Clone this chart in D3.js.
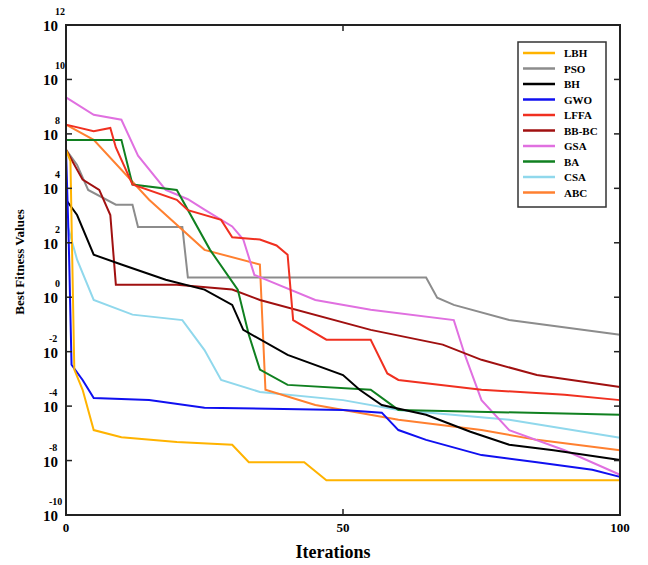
<!DOCTYPE html>
<html><head><meta charset="utf-8">
<script src="https://cdn.jsdelivr.net/npm/d3@7"></script>
<style>body{margin:0;background:#fff}text{font-family:"Liberation Serif","Times New Roman",serif;font-weight:bold}</style>
</head><body><svg id="c" width="648" height="565"></svg>
<script>
// y values are positions on the (evenly spaced) decade axis: 0 = 10^-10 label ... 9 = 10^12 label
const yTickExp = ["-10", "-8", "-4", "-2", "0", "2", "4", "8", "10", "12"];
const xTicks = [0, 50, 100];
const names = ["LBH","PSO","BH","GWO","LFFA","BB-BC","GSA","BA","CSA","ABC"];
const colors = ["#FFB300","#8C8C8C","#000000","#1010F0","#F03020","#A01010","#E070E0","#108020","#90D8EC","#FF8030"];
const LBH = [[0,6.71],[0.8,6.5],[1.5,2.67],[3,2.3],[5,1.56],[10,1.43],[20,1.34],[30,1.29],[33,0.97],[43,0.97],[47,0.64],[100,0.64]];
const PSO = [[0,6.71],[2,6.43],[4,5.97],[9,5.7],[12,5.7],[13,5.29],[21,5.29],[22,4.36],[65,4.36],[67,3.99],[70,3.86],[80,3.58],[100,3.31]];
const BH = [[0,5.79],[2,5.51],[5,4.78],[10,4.6],[18,4.32],[25,4.14],[30,3.86],[32,3.4],[40,2.94],[50,2.57],[53,2.3],[57,2.02],[65,1.84],[73,1.53],[80,1.29],[88,1.19],[100,1.01]];
const GWO = [[0,6.71],[0.5,5.0],[1,2.76],[3,2.48],[5,2.15],[15,2.11],[25,1.97],[50,1.93],[57,1.88],[60,1.56],[65,1.38],[75,1.1],[85,0.97],[95,0.83],[100,0.7]];
const LFFA = [[0,7.17],[5,7.05],[8,7.11],[9,6.75],[12,6.07],[20,5.79],[22,5.6],[28,5.42],[30,5.1],[35,5.06],[38,4.95],[40,4.78],[41,3.58],[47,3.22],[55,3.22],[58,2.6],[60,2.48],[75,2.3],[90,2.21],[100,2.11]];
const BBBC = [[0,6.71],[3,6.16],[6,5.97],[8,5.51],[9,4.23],[20,4.23],[30,4.14],[35,3.95],[55,3.4],[68,3.13],[75,2.85],[85,2.57],[100,2.35]];
const GSA = [[0,7.67],[5,7.35],[10,7.26],[13,6.6],[18,5.97],[22,5.8],[25,5.61],[30,5.3],[32,5.06],[34,4.41],[45,3.95],[55,3.77],[70,3.58],[72,2.94],[75,2.11],[80,1.56],[90,1.19],[100,0.74]];
const BA = [[0,6.89],[10,6.89],[12,6.07],[20,5.97],[26,4.87],[31,4.14],[33,3.31],[35,2.67],[40,2.39],[55,2.3],[60,1.93],[100,1.84]];
const CSA = [[0,5.42],[2,4.69],[5,3.95],[12,3.68],[21,3.58],[25,3.03],[28,2.48],[35,2.26],[50,2.11],[60,1.93],[80,1.75],[100,1.42]];
const ABC = [[0,7.17],[5,6.89],[15,5.79],[25,4.87],[35,4.6],[36,2.3],[45,2.02],[60,1.75],[75,1.56],[85,1.38],[100,1.19]];
const series = [LBH,PSO,BH,GWO,LFFA,BBBC,GSA,BA,CSA,ABC];
const drawOrder = [8,1,9,6,5,7,4,2,3,0];

const svg = d3.select("#c");
const L = 66, R = 620, T = 25, B = 515;
const x = d3.scaleLinear().domain([0,100]).range([L,R]);
const y = d3.scaleLinear().domain([0,9]).range([B,T]);
const line = d3.line().x(d => x(d[0])).y(d => y(d[1]));

const g = svg.append("g");
drawOrder.forEach(i => {
  g.append("path").attr("d", line(series[i])).attr("fill","none")
   .attr("stroke", colors[i]).attr("stroke-width", 2);
});

// frame
svg.append("rect").attr("x",L).attr("y",T).attr("width",R-L).attr("height",B-T)
  .attr("fill","none").attr("stroke","#222").attr("stroke-width",2);
// y ticks
yTickExp.forEach((e,i) => {
  svg.append("line").attr("x1",L).attr("x2",L+6).attr("y1",y(i)).attr("y2",y(i)).attr("stroke","#222").attr("stroke-width",1.5);
  svg.append("line").attr("x1",R).attr("x2",R-6).attr("y1",y(i)).attr("y2",y(i)).attr("stroke","#222").attr("stroke-width",1.5);
  svg.append("text").attr("x",58).attr("y",y(i)+6).attr("text-anchor","end").attr("font-size",15).text("10");
  svg.append("text").attr("x", e.startsWith("-") ? 49 : 55).attr("y",y(i)-10).attr("font-size",10).text(e);
});
xTicks.forEach(v => {
  svg.append("line").attr("x1",x(v)).attr("x2",x(v)).attr("y1",B).attr("y2",B-6).attr("stroke","#222").attr("stroke-width",1.5);
  svg.append("line").attr("x1",x(v)).attr("x2",x(v)).attr("y1",T).attr("y2",T+6).attr("stroke","#222").attr("stroke-width",1.5);
  svg.append("text").attr("x",x(v)).attr("y",B+17).attr("text-anchor","middle").attr("font-size",13).text(v);
});
svg.append("text").attr("x",(L+R)/2-10).attr("y",558).attr("text-anchor","middle").attr("font-size",18).text("Iterations");
svg.append("text").attr("transform","translate(24,262) rotate(-90)").attr("text-anchor","middle").attr("font-size",13).text("Best Fitness Values");

// legend
const lg = svg.append("g").attr("transform","translate(518,42)");
lg.append("rect").attr("width",88).attr("height",165).attr("fill","#fff").attr("stroke","#333").attr("stroke-width",1.5);
names.forEach((n,i) => {
  const yy = 11 + i*15.5;
  lg.append("line").attr("x1",5).attr("x2",37).attr("y1",yy).attr("y2",yy).attr("stroke",colors[i]).attr("stroke-width",2.5);
  lg.append("text").attr("x",46).attr("y",yy+4).attr("font-size",11).text(n);
});
</script></body></html>
